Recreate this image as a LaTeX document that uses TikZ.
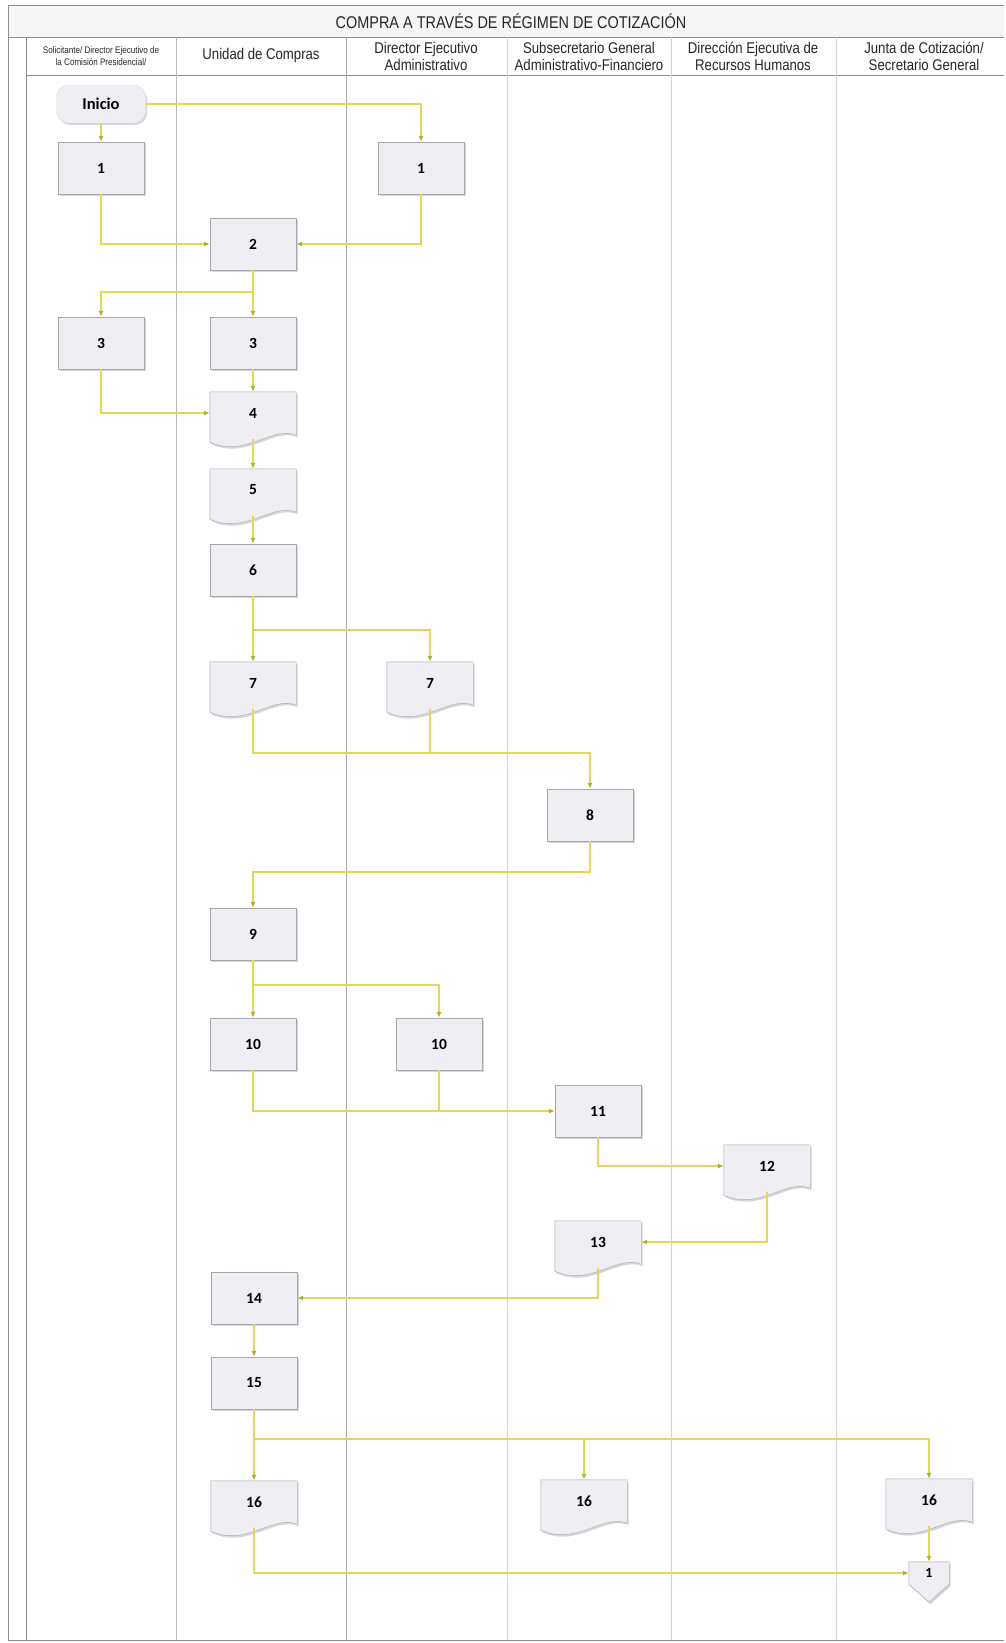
\documentclass[tikz,border=0pt]{standalone}
\usepackage{fontspec}
\setmainfont{Liberation Sans}
\newfontfamily\hdfont{Liberation Sans}[FakeStretch=0.85]
\newfontfamily\numfont{Carlito}
\usetikzlibrary{arrows.meta,calc,shadows,backgrounds}

\definecolor{boxfill}{RGB}{238,238,243}
\definecolor{boxline}{RGB}{165,165,172}
\definecolor{flowline}{RGB}{228,214,88}
\definecolor{tipcol}{RGB}{176,176,40}
\definecolor{laneline}{RGB}{140,140,140}

\begin{document}
\begin{tikzpicture}[
  x=1pt,y=-1pt,
  frame/.style={laneline,line width=0.8pt},
  lanesep/.style={gray!35,line width=0.9pt},
  head/.style={font=\hdfont\fontsize{15.5}{17}\selectfont,align=center,text=black!85},
  shade/.style={drop shadow={shadow xshift=1.5pt,shadow yshift=-2pt,fill=black!35,opacity=0.45}},
  startnode/.style={draw=gray!25,fill=boxfill,rounded corners=12pt,minimum width=89pt,
    minimum height=38pt,font=\numfont\bfseries\fontsize{16.5}{18}\selectfont,shade},
  task/.style={draw=boxline,fill=boxfill,minimum width=86pt,minimum height=52pt,inner sep=0pt,
    font=\numfont\bfseries\fontsize{15.5}{17}\selectfont,shade},
  docnode/.style={minimum width=86pt,minimum height=42pt,inner sep=0pt,
    font=\numfont\bfseries\fontsize{15.5}{17}\selectfont},
  offnode/.style={minimum width=40pt,minimum height=22pt,inner sep=0pt,
    font=\numfont\bfseries\fontsize{14}{16}\selectfont},
  docshape/.style={draw=boxline,fill=boxfill,shade},
  link/.style={flowline,line width=1.3pt},
  flow/.style={link,-{Latex[length=6pt,width=5pt,color=tipcol]}},
  fromdoc/.style={shorten <=5pt}
]
  \useasboundingbox (0,0) rectangle (1005,1643);

  % Frame, title band and header row.
  \fill[gray!7] (8,5) rectangle (1004,37);
  \draw[frame] (8,5) -- (1004,5) (8,37) -- (1004,37) (26,75) -- (1004,75)
    (8,5) -- (8,1640) (26,37) -- (26,1640) (8,1640) -- (1004,1640);
  \draw[gray!55,line width=0.9pt] (176,37) -- (176,1640);
  \draw[gray!65,line width=0.9pt] (346,37) -- (346,1640);
  \foreach \lx in {507,671,836}
    \draw[lanesep] (\lx,37) -- (\lx,1640);

  \node[head,font=\hdfont\fontsize{17}{19}\selectfont] (title) at (511,21)
    {COMPRA A TRAVÉS DE RÉGIMEN DE COTIZACIÓN};
  \node[head,font=\hdfont\fontsize{9.5}{11.5}\selectfont] (h1) at (101,56)
    {Solicitante/ Director Ejecutivo de\\la Comisión Presidencial/};
  \node[head] (h2) at (261,55) {Unidad de Compras};
  \node[head] (h3) at (426,56) {Director Ejecutivo\\Administrativo};
  \node[head] (h4) at (589,56) {Subsecretario General\\Administrativo-Financiero};
  \node[head] (h5) at (753,56) {Dirección Ejecutiva de\\Recursos Humanos};
  \node[head] (h6) at (924,56) {Junta de Cotización/\\Secretario General};

  % Activities, top to bottom.
  \node[startnode] (inicio) at (101,104) {Inicio};
  \node[task] (b1a) at (101,168) {1};
  \node[task] (b1b) at (421,168) {1};
  \node[task] (b2) at (253,244) {2};
  \node[task] (b3a) at (101,343) {3};
  \node[task] (b3b) at (253,343) {3};
  \node[docnode] (d4) at (253,413) {4};
  \node[docnode] (d5) at (253,490) {5};
  \node[task] (b6) at (253,570) {6};
  \node[docnode] (d7a) at (253,683) {7};
  \node[docnode] (d7b) at (430,683) {7};
  \node[task] (b8) at (590,815) {8};
  \node[task] (b9) at (253,934) {9};
  \node[task] (b10a) at (253,1044) {10};
  \node[task] (b10b) at (439,1044) {10};
  \node[task] (b11) at (598,1111) {11};
  \node[docnode] (d12) at (767,1166) {12};
  \node[docnode] (d13) at (598,1242) {13};
  \node[task] (b14) at (254,1298) {14};
  \node[task] (b15) at (254,1383) {15};
  \node[docnode] (d16a) at (254,1502) {16};
  \node[docnode] (d16b) at (584,1501) {16};
  \node[docnode] (d16c) at (929,1500) {16};
  \node[offnode] (off) at (929,1573) {1};

  % Document and off-page outlines behind their numbers.
  \begin{scope}[on background layer]
    \foreach \d in {d4,d5,d7a,d7b,d12,d13,d16a,d16b,d16c}
      \draw[docshape] (\d.north west) -- (\d.north east) -- ($(\d.south east)+(0,1)$)
        .. controls ($(\d.south east)+(-24,-9)$) and ($(\d.south west)+(36,24)$)
        .. ($(\d.south west)+(0,8)$) -- cycle;
    \draw[docshape] (off.north west) -- (off.north east) -- (off.south east)
      -- ($(off.south)+(0,18)$) -- (off.south west) -- cycle;
  \end{scope}

  % Junction points on the branching lines.
  \coordinate (j2) at (253,292);
  \coordinate (j6) at (253,630);
  \coordinate (j7) at (430,753);
  \coordinate (j8) at (253,872);
  \coordinate (j9) at (253,985);
  \coordinate (j15) at (254,1439);

  % Flow.
  \draw[flow] (inicio) -- (b1a);
  \draw[flow] (inicio.east) -| (b1b.north);
  \draw[flow] (b1a.south) |- (b2.west);
  \draw[flow] (b1b.south) |- (b2.east);
  \draw[flow] (b2) -- (b3b);
  \draw[flow] (j2) -| (b3a.north);
  \draw[flow] (b3b) -- (d4);
  \draw[flow] (b3a.south) |- (d4.west);
  \draw[flow,fromdoc] (d4) -- (d5);
  \draw[flow,fromdoc] (d5) -- (b6);
  \draw[flow] (b6) -- (d7a);
  \draw[flow] (j6) -| (d7b.north);
  \draw[flow,fromdoc] (d7a.south) |- (j7) -| (b8.north);
  \draw[link,fromdoc] (d7b.south) -- (j7);
  \draw[flow] (b8.south) |- (j8) -- (b9.north);
  \draw[flow] (b9) -- (b10a);
  \draw[flow] (j9) -| (b10b.north);
  \draw[flow] (b10a.south) |- (b11.west);
  \draw[link] (b10b.south) -- (b10b.south |- b11.west);
  \draw[flow] (b11.south) |- (d12.west);
  \draw[flow,fromdoc] (d12.south) |- (d13.east);
  \draw[flow,fromdoc] (d13.south) |- (b14.east);
  \draw[flow] (b14) -- (b15);
  \draw[flow] (b15) -- (d16a);
  \draw[flow] (j15) -| (d16c.north);
  \draw[flow] (d16b.north |- j15) -- (d16b.north);
  \draw[flow,fromdoc] (d16c.south) -- (off.north);
  \draw[flow,fromdoc] (d16a.south) |- (off.west);
\end{tikzpicture}
\end{document}
